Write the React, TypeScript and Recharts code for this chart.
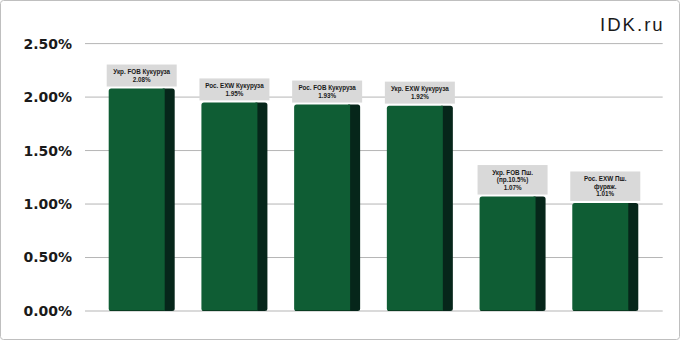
import React from 'react';
import { BarChart, Bar, XAxis, YAxis, CartesianGrid, LabelList } from 'recharts';

const categories = [
  'Укр. FOB Кукуруза',
  'Рос. EXW Кукуруза',
  'Рос. FOB Кукуруза',
  'Укр. EXW Кукуруза',
  'Укр. FOB Пш.\n(пр.10.5%)',
  'Рос. EXW Пш.\nфураж.',
];
const values = [2.08, 1.95, 1.93, 1.92, 1.07, 1.01];
const yTicks = [0, 0.5, 1.0, 1.5, 2.0, 2.5];

const data = categories.map((c, i) => ({ name: c, value: values[i] }));

const FRONT = '#0f5d34';
const SIDE = '#06261a';

const BarShape = (props: any) => {
  const { x, y, width, height } = props;
  const side = 10;
  const r = 2.5;
  return (
    <g>
      <path
        d={`M${x + width - side - 2},${y} L${x + width - r},${y} Q${x + width},${y} ${x + width},${y + r} L${x + width},${y + height - r} Q${x + width},${y + height} ${x + width - r},${y + height} L${x + width - side - 2},${y + height} Z`}
        fill={SIDE}
      />
      <path
        d={`M${x + r},${y} L${x + width - side},${y} L${x + width - side},${y + height} L${x + r},${y + height} Q${x},${y + height} ${x},${y + height - r} L${x},${y + r} Q${x},${y} ${x + r},${y} Z`}
        fill={FRONT}
      />
      <line x1={x + 1} x2={x + width - side} y1={y + height - 0.5} y2={y + height - 0.5} stroke="#0a3d22" strokeWidth={1} />
    </g>
  );
};

const LabelBox = (props: any) => {
  const { x, y, width, index } = props;
  const v = values[index];
  const lines = [...categories[index].split('\n'), v.toFixed(2) + '%'];
  const lh = 7.5;
  const boxH = lines.length * lh + 7;
  const boxW = 70;
  const cx = x + width / 2;
  const bottom = y - 2;
  const top = bottom - boxH;
  return (
    <g>
      <rect x={cx - boxW / 2} y={top} width={boxW} height={boxH} fill="#d9d9d9" />
      {lines.map((l, i) => (
        <text
          key={i}
          x={cx}
          y={top + 3.5 + lh * i + lh / 2}
          textAnchor="middle"
          dominantBaseline="central"
          fontFamily="'Liberation Sans', Arial, sans-serif"
          fontWeight="bold"
          fontSize={6.3}
          fill="#1a1a1a"
        >
          {l}
        </text>
      ))}
    </g>
  );
};

export default function App() {
  return (
    <div style={{ position: 'absolute', left: 0, top: 0, width: 681, height: 341, background: '#fff' }}>
      <svg width={681} height={341} style={{ position: 'absolute', left: 0, top: 0 }}>
        <rect x={0.5} y={0.5} width={679} height={339} rx={3} fill="#fff" stroke="#bfbfbf" strokeWidth={1} />
        <text
          x={600}
          y={31}
          fontFamily="'Liberation Sans', Arial, sans-serif"
          fontSize={18.6}
          letterSpacing={2}
          fill="#1a1a1a"
        >
          IDK.ru
        </text>
      </svg>
      <div style={{ position: 'absolute', left: 0, top: 0 }}>
        <BarChart
          width={681}
          height={341}
          data={data}
          margin={{ top: 43.6, right: 18.3, bottom: 30, left: 0 }}
          barSize={66}
        >
          <CartesianGrid horizontal vertical={false} stroke="#b5b5b5" strokeWidth={1} />
          <XAxis dataKey="name" hide padding={{ left: 10.7, right: 10.7 }} />
          <YAxis
            width={85}
            domain={[0, 2.5]}
            ticks={yTicks}
            tickFormatter={(v: number) => v.toFixed(2) + '%'}
            axisLine={false}
            tickLine={false}
            tickSize={6}
            tickMargin={7}
            tick={{ fontFamily: "'DejaVu Sans', sans-serif", fontWeight: 'bold', fontSize: 14, fill: '#1a1a1a' }}
          />
          <Bar dataKey="value" shape={<BarShape />} isAnimationActive={false}>
            <LabelList dataKey="value" content={<LabelBox />} />
          </Bar>
        </BarChart>
      </div>
    </div>
  );
}
